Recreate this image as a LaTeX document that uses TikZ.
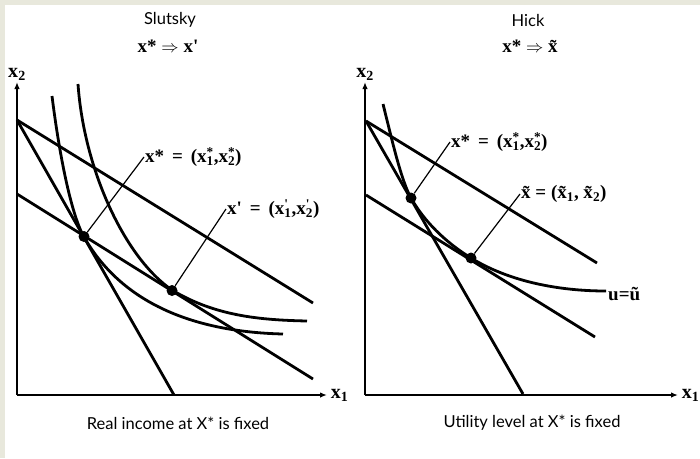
\documentclass[tikz,border=0pt]{standalone}
\usepackage{fontspec}
\setmainfont{Liberation Serif}
\newfontfamily\gillfont{Lato}
\usetikzlibrary{arrows.meta}
\definecolor{framebg}{RGB}{232,232,220}
% subscript with a stacked superscript
\newcommand\subsup[2]{\rlap{\textsuperscript{#2}}\textsubscript{#1}}
\newcommand\pr{\textquotesingle}

\begin{document}
\begin{tikzpicture}[
  x=1pt,y=-1pt,
  curve/.style={line width=2.8pt},
  pointer/.style={line width=1.2pt},
  axis/.style={line width=1.6pt,-{Latex[length=7pt,width=5.5pt]}},
  dot/.style={circle,fill=black,inner sep=0pt,minimum size=11pt},
  lab/.style={font=\bfseries\fontsize{19}{22}\selectfont,inner sep=1pt},
  axlab/.style={font=\bfseries\fontsize{20}{22}\selectfont,inner sep=0pt},
  title/.style={font=\gillfont\fontsize{16.5}{19}\selectfont},
]
  % frame
  \fill[framebg] (0,0) rectangle (700,458);
  \fill[white] (5,5) rectangle (700,458);
  \useasboundingbox (0,0) rectangle (700,458);

  %% Slutsky
  \node[title] (tS) at (170,20) {Slutsky};
  \node[lab] (tSs) at (168,46) {x* $\Rightarrow$ x\pr};

  \coordinate (oL) at (17,395);
  \draw[axis] (oL) -- (17,82) node[axlab,above=1pt] (yL) {x\textsubscript{2}};
  \draw[axis] (oL) -- (327,395) node[axlab,right=3pt] (xL) {x\textsubscript{1}};

  % budget lines
  \draw[curve] (17,120) -- (174,395);
  \draw[curve] (17,120) -- (313,303);
  \draw[curve] (17,194) -- (313,379);

  % indifference curves
  \draw[curve] (52,96) .. controls (60,160) and (72,216) .. (84,237)
    .. controls (124,307) and (200,332) .. (283,334);
  \draw[curve] (78,84) .. controls (84,170) and (125,258) .. (172,290)
    .. controls (215,316) and (260,320) .. (307,321);

  \node[dot] (xsL) at (84,236.5) {};
  \node[dot] (xpL) at (172,290.5) {};

  \node[lab,anchor=west] (lsL) at (144,157)
    {x* \,=\, (x\subsup{1}{*},x\subsup{2}{*})};
  \node[lab,anchor=west] (lpL) at (226,209)
    {x\pr\ \,=\, (x\subsup{1}{\pr},x\subsup{2}{\pr})};
  \draw[pointer] (xsL) -- (lsL.west);
  \draw[pointer] (xpL) -- (lpL.west);

  \node[title] (cL) at (178,423) {Real income at X* is fixed};

  %% Hick
  \node[title] (tH) at (528,20) {Hick};
  \node[lab] (tHs) at (530,46) {x* $\Rightarrow$ \~{x}};

  \coordinate (oR) at (365,395);
  \draw[axis] (oR) -- (365,82) node[axlab,above=1pt] (yR) {x\textsubscript{2}};
  \draw[axis] (oR) -- (678,395) node[axlab,right=3pt] (xR) {x\textsubscript{1}};

  % budget lines
  \draw[curve] (366,121) -- (523,394);
  \draw[curve] (366,121) -- (597,263);
  \draw[curve] (366,195) -- (595,337);

  % indifference curve
  \draw[curve] (383,104) .. controls (392,140) and (401,180) .. (411,198)
    .. controls (424,221) and (445,242) .. (471,258)
    .. controls (510,282) and (560,291) .. (606,291);

  \node[dot] (xsR) at (411,198) {};
  \node[dot] (xtR) at (471,258) {};

  \node[lab,anchor=west] (lsR) at (450,142)
    {x* \,=\, (x\subsup{1}{*},x\subsup{2}{*})};
  \node[lab,anchor=west] (ltR) at (520,194)
    {\~{x} = (\~{x}\textsubscript{1}, \~{x}\textsubscript{2})};
  \node[lab,anchor=west] (lu) at (607,294) {u=\~{u}};
  \draw[pointer] (xsR) -- (lsR.west);
  \draw[pointer] (xtR) -- (ltR.west);

  \node[title] (cR) at (532,423) {Utility level at X* is fixed};
\end{tikzpicture}
\end{document}
